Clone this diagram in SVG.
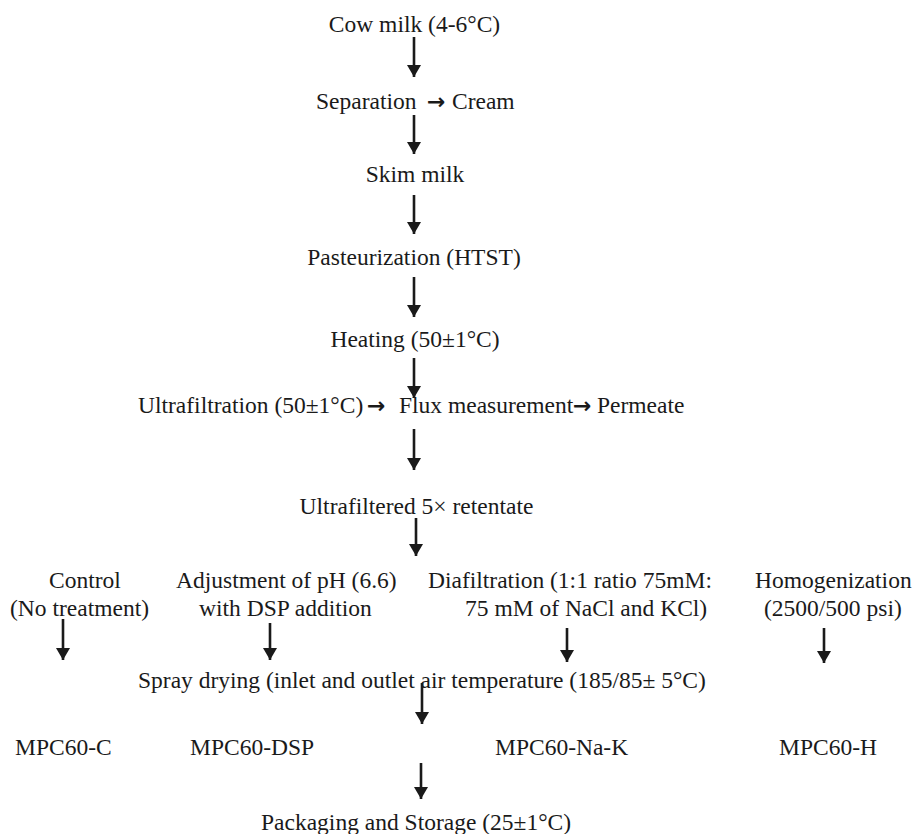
<svg xmlns="http://www.w3.org/2000/svg" width="914" height="834" viewBox="0 0 914 834">
<style>
  text { font-family: "Liberation Serif", "Times New Roman", "DejaVu Serif", serif; font-size: 23.5px; fill: #1a1a1a; }
  .c { text-anchor: middle; }
  .ar { font-family: "DejaVu Sans", "Liberation Sans", sans-serif; font-weight: bold; font-size: 22px; }
  .conn line { stroke: #1a1a1a; stroke-width: 2.6; }
</style>
<defs>
  <marker id="ah" viewBox="0 0 12 14" refX="12" refY="7" markerWidth="12" markerHeight="14" markerUnits="userSpaceOnUse" orient="auto">
    <path d="M0,0 L12,7 L0,14 Z" fill="#1a1a1a"/>
  </marker>
</defs>
<rect width="914" height="834" fill="#ffffff"/>

<g id="n-cow"><text class="c" x="414.5" y="32">Cow milk (4-6°C)</text></g>
<g id="n-separation"><text x="316" y="109">Separation<tspan class="ar" x="427">→</tspan><tspan x="452">Cream</tspan></text></g>
<g id="n-skim"><text class="c" x="415" y="182">Skim milk</text></g>
<g id="n-past"><text class="c" x="414" y="265">Pasteurization (HTST)</text></g>
<g id="n-heat"><text class="c" x="415" y="347">Heating (50±1°C)</text></g>
<g id="n-uf"><text x="138" y="413">Ultrafiltration (50±1°C)<tspan class="ar" x="367">→</tspan><tspan x="399">Flux measurement</tspan><tspan class="ar" x="573">→</tspan><tspan x="597">Permeate</tspan></text></g>
<g id="n-ret"><text class="c" x="416.5" y="514">Ultrafiltered 5× retentate</text></g>
<g id="n-control"><text x="49" y="588">Control</text><text x="10" y="616">(No treatment)</text></g>
<g id="n-dsp"><text x="176" y="588">Adjustment of pH (6.6)</text><text x="199" y="616">with DSP addition</text></g>
<g id="n-dia"><text x="428" y="588">Diafiltration (1:1 ratio 75mM:</text><text x="465" y="616">75 mM of NaCl and KCl)</text></g>
<g id="n-homo"><text x="755" y="588">Homogenization</text><text x="764" y="616">(2500/500 psi)</text></g>
<g id="n-spray"><text x="138" y="688">Spray drying (inlet and outlet air temperature (185/85± 5°C)</text></g>
<g id="n-mpcc"><text x="15" y="755">MPC60-C</text></g>
<g id="n-mpcdsp"><text x="190" y="755">MPC60-DSP</text></g>
<g id="n-mpcnak"><text x="495" y="755">MPC60-Na-K</text></g>
<g id="n-mpch"><text x="779" y="755">MPC60-H</text></g>
<g id="n-pack"><text x="261" y="830">Packaging and Storage (25±1°C)</text></g>

<g id="connectors" class="conn">
  <line x1="414" y1="37" x2="414" y2="77" marker-end="url(#ah)"/>
  <line x1="414" y1="115" x2="414" y2="154" marker-end="url(#ah)"/>
  <line x1="414" y1="195" x2="414" y2="234" marker-end="url(#ah)"/>
  <line x1="414" y1="277" x2="414" y2="317" marker-end="url(#ah)"/>
  <line x1="414" y1="358" x2="414" y2="398" marker-end="url(#ah)"/>
  <line x1="414" y1="429" x2="414" y2="470" marker-end="url(#ah)"/>
  <line x1="416" y1="518" x2="416" y2="556" marker-end="url(#ah)"/>
  <line x1="63" y1="619" x2="63" y2="660" marker-end="url(#ah)"/>
  <line x1="270" y1="623" x2="270" y2="660" marker-end="url(#ah)"/>
  <line x1="567" y1="628" x2="567" y2="662" marker-end="url(#ah)"/>
  <line x1="824" y1="628" x2="824" y2="663" marker-end="url(#ah)"/>
  <line x1="422" y1="683" x2="422" y2="724" marker-end="url(#ah)"/>
  <line x1="421" y1="763" x2="421" y2="799" marker-end="url(#ah)"/>
</g>
</svg>
